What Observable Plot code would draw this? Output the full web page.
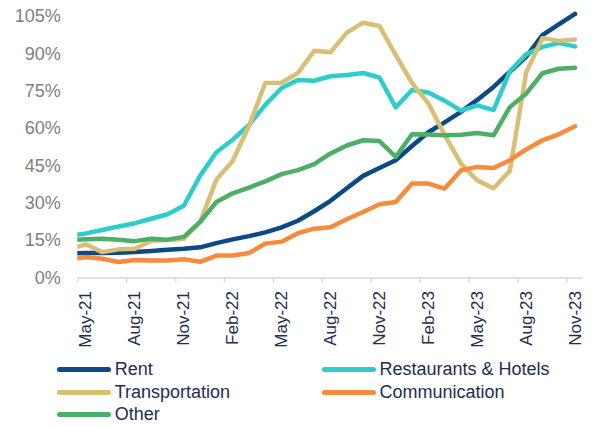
<!DOCTYPE html>
<html><head><meta charset="utf-8">
<script src="https://cdn.jsdelivr.net/npm/d3@7"></script>
<script src="https://cdn.jsdelivr.net/npm/@observablehq/plot@0.6"></script>
<style>
body{margin:0;background:#fff;font-family:"Liberation Sans",Arial,sans-serif;}
#wrap{position:relative;width:592px;height:427px;overflow:hidden;}
#wrap svg{position:absolute;left:0;top:0;}
.leg{position:absolute;display:flex;align-items:center;height:24px;font-size:18px;color:#1d2d50;white-space:nowrap;}
.sw{width:54px;height:5px;border-radius:3px;margin-right:4px;}
</style></head><body><div id="wrap"></div>
<script>
const months = ["Apr-21","May-21","Jun-21","Jul-21","Aug-21","Sep-21","Oct-21","Nov-21","Dec-21",
  "Jan-22","Feb-22","Mar-22","Apr-22","May-22","Jun-22","Jul-22","Aug-22","Sep-22","Oct-22","Nov-22","Dec-22",
  "Jan-23","Feb-23","Mar-23","Apr-23","May-23","Jun-23","Jul-23","Aug-23","Sep-23","Oct-23","Nov-23"];
const tickLabels = ["May-21","Aug-21","Nov-21","Feb-22","May-22","Aug-22","Nov-22","Feb-23","May-23","Aug-23","Nov-23"];
const yTicks = [0, 15, 30, 45, 60, 75, 90, 105];
const seriesNames = ["Rent","Restaurants & Hotels","Transportation","Communication","Other"];
const seriesColors = ["#0b4a85","#2ecccc","#d9bf76","#f68b3c","#4caf65"];

const rent = [9.9, 10.0, 10.0, 10.1, 10.4, 10.8, 11.3, 11.7, 12.3, 14.0, 15.5, 16.8, 18.3, 20.3, 23.0, 26.8,
  31.0, 36.0, 41.0, 44.2, 47.3, 53.0, 58.5, 62.5, 66.7, 71.5, 76.7, 82.8, 88.8, 97.5, 101.8, 106.0];
const restaurants = [17.0, 17.9, 19.3, 20.7, 22.0, 23.8, 25.6, 29.0, 41.0, 50.5, 55.5, 61.5, 69.5, 76.3, 79.5, 79.2,
  81.0, 81.5, 82.3, 80.5, 68.5, 75.5, 74.5, 71.2, 67.2, 69.3, 67.4, 83.0, 89.8, 92.8, 94.3, 93.0];
const transportation = [11.6, 13.5, 10.4, 11.5, 11.7, 15.0, 15.3, 15.8, 22.4, 39.5, 47.0, 61.0, 78.3, 78.4, 82.3, 91.2,
  90.6, 98.5, 102.5, 101.2, 89.5, 78.3, 70.1, 57.5, 45.9, 39.2, 36.0, 43.0, 82.5, 96.3, 95.2, 95.8];
const communication = [7.4, 8.4, 7.7, 6.4, 7.2, 7.0, 7.0, 7.5, 6.5, 9.0, 9.0, 10.0, 13.8, 14.6, 18.0, 19.8,
  20.4, 23.6, 26.5, 29.6, 30.5, 37.9, 37.9, 35.9, 43.2, 44.6, 44.2, 47.3, 51.6, 55.3, 57.7, 60.9];
const other = [15.2, 15.6, 15.8, 15.4, 14.8, 15.8, 15.4, 16.5, 22.5, 30.5, 34.0, 36.3, 38.8, 41.7, 43.3, 45.7,
  50.0, 53.2, 55.3, 55.0, 48.6, 57.7, 57.6, 57.3, 57.5, 58.2, 57.3, 68.6, 74.0, 82.2, 84.0, 84.4];

const values = [rent, restaurants, transportation, communication, other];
// month i is drawn at the centre of its category; categories start at May-21 = 0
const posOf = m => months.indexOf(m) - 0.5;
const data = seriesNames.flatMap((s, j) => values[j].map((v, i) => ({series: s, pos: posOf(months[i]), value: v})));
const labelPos = tickLabels.map(posOf);
const labelMap = new Map(tickLabels.map(l => [posOf(l), l]));
const boundaries = labelPos.map(p => p - 0.5);

const font = '"Liberation Sans", Arial, sans-serif';
const chart = Plot.plot({
  width: 592, height: 358,
  marginLeft: 77.3, marginRight: 9.3, marginTop: 8.5, marginBottom: 80.5,
  style: {fontFamily: font, background: "transparent"},
  x: {type: "linear", domain: [0, months.length - 1], axis: null, label: null},
  y: {domain: [0, 108], axis: null, label: null},
  color: {domain: seriesNames, range: seriesColors},
  marks: [
    Plot.ruleY([0], {stroke: "#d9d9d9", strokeWidth: 1.5}),
    Plot.axisX(boundaries, {tickSize: 5, tickFormat: () => "", stroke: "#d9d9d9", strokeWidth: 1.5, label: null}),
    Plot.axisX(labelPos, {tickSize: 0, tickPadding: 13, tickRotate: -90, tickFormat: p => labelMap.get(p),
      fontSize: 17, fill: "#1d2d50", label: null}),
    Plot.axisY(yTicks, {tickSize: 0, tickPadding: 17, tickFormat: d => d + "%", fontSize: 18, fill: "#808080", label: null}),
    Plot.line(data, {x: "pos", y: "value", z: "series", stroke: "series", strokeWidth: 4.5,
      strokeLinejoin: "round", strokeLinecap: "round", clip: true})
  ]
});
const wrap = document.getElementById("wrap");
wrap.appendChild(chart);

const rowY = [369.5, 392, 414.5];
const colX = [56.7, 321.5];
seriesNames.forEach((s, j) => {
  const d = document.createElement("div");
  d.className = "leg";
  d.style.left = colX[j % 2] + "px";
  d.style.top = (rowY[Math.floor(j / 2)] - 12) + "px";
  d.innerHTML = `<div class="sw" style="background:${seriesColors[j]}"></div><span></span>`;
  d.querySelector("span").textContent = s;
  wrap.appendChild(d);
});
</script></body></html>
